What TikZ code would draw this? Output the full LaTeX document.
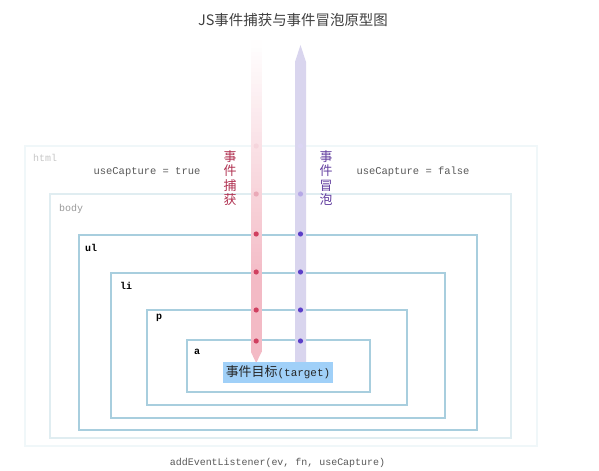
\documentclass[tikz,border=0pt]{standalone}
\usepackage{fontspec}
\setmonofont{Liberation Mono}
\newfontfamily\cjk{Noto Sans CJK SC}
\definecolor{capcol}{RGB}{243,186,197}
\definecolor{capdot}{RGB}{208,64,96}
\definecolor{bubcol}{RGB}{217,213,238}
\definecolor{bubdot}{RGB}{92,64,200}
\definecolor{boxcol}{RGB}{168,206,222}
\definecolor{bodycol}{RGB}{224,237,241}
\definecolor{htmlcol}{RGB}{240,247,249}
\definecolor{tgtcol}{RGB}{160,208,248}
\definecolor{captxt}{RGB}{176,48,80}
\definecolor{bubtxt}{RGB}{100,64,160}
\tikzset{
  inbox/.style={draw=boxcol, line width=1.6bp},
  bodybox/.style={draw=bodycol, line width=1.6bp},
  htmlbox/.style={draw=htmlcol, line width=1.6bp},
  monolbl/.style={font=\ttfamily\fontsize{10.5}{12}\selectfont, text=black!65, inner sep=0pt},
  taglbl/.style={font=\ttfamily\bfseries\fontsize{10}{12}\selectfont, text=black, inner sep=0pt, anchor=west},
  vlbl/.style={font=\cjk\fontsize{13}{14.5}\selectfont, align=center, inner sep=0pt},
}
\begin{document}
\begin{tikzpicture}[x=1bp,y=-1bp]
\useasboundingbox (0,0) rectangle (599,471);
\fill[white] (0,0) rectangle (599,471);

% nested boxes
\draw[htmlbox] (25,146) rectangle (537,446);
\draw[bodybox] (50,194) rectangle (511,438);
\draw[inbox] (79,235) rectangle (477,430);
\draw[inbox] (111,273) rectangle (445,418);
\draw[inbox] (147,310) rectangle (407,405);
\draw[inbox] (187,340) rectangle (370,392);

% capture band (fading upwards)
\foreach \yy in {40,44,...,348}{
  \pgfmathsetmacro\p{min(100,max(2,(\yy-40)/2.4))}
  \fill[capcol!\p!white] (251,\yy) rectangle (261.5,\yy+4.2);
}
\fill[capcol] (251,352) -- (261.5,352) -- (256.2,363) -- cycle;

% bubble band
\fill[bubcol] (295,362) -- (295,62) -- (300.5,45) -- (306,62) -- (306,362) -- cycle;

% dots
\foreach \yy/\q in {146/22,194/45,234/100,272/100,310/100,341/100}{
  \fill[capdot!\q!white] (256.2,\yy) circle (2.6);
  \fill[bubdot!\q!white] (300.5,\yy) circle (2.6);
}

% target
\node[fill=tgtcol, minimum width=110bp, minimum height=21bp, inner sep=0pt, text=black!85] (tgt) at (278,372.5)
  {{\cjk\fontsize{13}{14}\selectfont 事件目标}{\ttfamily\fontsize{11}{12}\selectfont(target)}};

% title
\node[font=\cjk\fontsize{14.5}{16}\selectfont, text=black!75] (title) at (293,20) {JS事件捕获与事件冒泡原型图};

% vertical labels
\node[vlbl, text=captxt] (caplbl) at (230,178) {事\\件\\捕\\获};
\node[vlbl, text=bubtxt] (bublbl) at (326,178) {事\\件\\冒\\泡};

% useCapture labels
\node[monolbl] (uctrue) at (147,172) {useCapture = true};
\node[monolbl] (ucfalse) at (413,172) {useCapture = false};

% tag labels
\node[taglbl, text=black!22, font=\ttfamily\fontsize{10}{12}\selectfont] (lhtml) at (33,158) {html};
\node[taglbl, text=black!40, font=\ttfamily\fontsize{10}{12}\selectfont] (lbody) at (59,209) {body};
\node[taglbl] (lul) at (85,248) {ul};
\node[taglbl] (lli) at (120,286) {li};
\node[taglbl] (lp) at (156,318) {p};
\node[taglbl] (la) at (194,352) {a};

% footer
\node[monolbl, font=\ttfamily\fontsize{10}{12}\selectfont] (footer) at (277.5,463) {addEventListener(ev, fn, useCapture)};
\end{tikzpicture}
\end{document}
